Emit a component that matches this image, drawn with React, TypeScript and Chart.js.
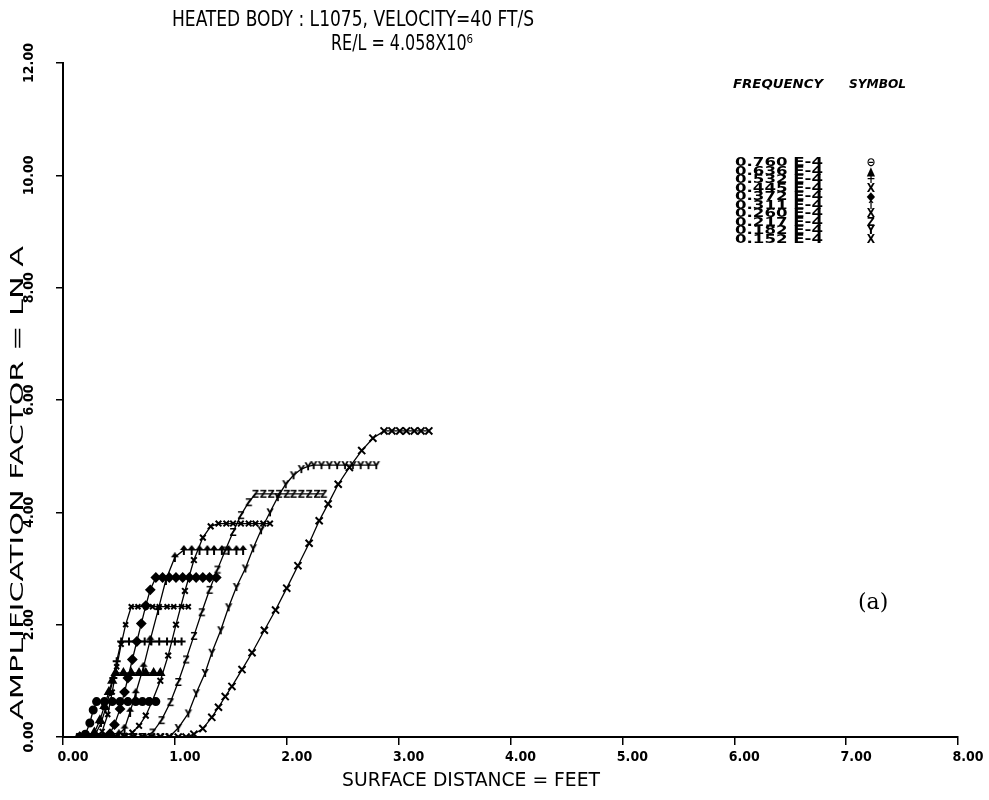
import React, { useEffect, useRef } from 'react';
import { Chart, registerables } from 'chart.js';

Chart.register(...registerables);

// ---------- data ----------
const X_TICKS = [0, 1, 2, 3, 4, 5, 6, 7, 8];
const Y_TICKS = [0, 2, 4, 6, 8, 10, 12];

const TITLE_LINE_1 = 'HEATED BODY : L1075, VELOCITY=40 FT/S';
const TITLE_LINE_2 = 'RE/L = 4.058X10\u2076';
const X_TITLE = 'SURFACE DISTANCE = FEET';
const Y_TITLE = 'AMPLIFICATION FACTOR = LN A';
const PANEL_LABEL = '(a)';
const LEGEND_HEAD_1 = 'FREQUENCY';
const LEGEND_HEAD_2 = 'SYMBOL';

const FREQUENCIES = ['0.760 E-4', '0.636 E-4', '0.532 E-4', '0.445 E-4', '0.372 E-4', '0.311 E-4', '0.260 E-4', '0.217 E-4', '0.182 E-4', '0.152 E-4'];
const SYMBOLS = ['\u2296', '\u25B2', '+', 'X', '\u25C6', '\u2191', 'X', 'Z', 'Y', 'X'];

const S1_X = [0.15, 0.20, 0.24, 0.27, 0.30, 0.37, 0.44, 0.51, 0.58, 0.65, 0.71, 0.77, 0.83];
const S1_Y = [0, 0.05, 0.25, 0.48, 0.63, 0.63, 0.63, 0.63, 0.63, 0.63, 0.63, 0.63, 0.63];

const S2_X = [0.15, 0.22, 0.28, 0.33, 0.37, 0.41, 0.44, 0.47, 0.54, 0.61, 0.68, 0.74, 0.81, 0.87];
const S2_Y = [0, 0, 0.08, 0.30, 0.55, 0.80, 1.00, 1.14, 1.14, 1.14, 1.14, 1.14, 1.14, 1.14];

const S3_X = [0.15, 0.22, 0.29, 0.34, 0.38, 0.42, 0.45, 0.48, 0.52, 0.59, 0.66, 0.73, 0.79, 0.86, 0.93, 1.00, 1.06];
const S3_Y = [0, 0, 0.05, 0.25, 0.50, 0.80, 1.05, 1.35, 1.70, 1.70, 1.70, 1.70, 1.70, 1.70, 1.70, 1.70, 1.70];

const S4_X = [0.15, 0.22, 0.29, 0.35, 0.40, 0.44, 0.48, 0.52, 0.56, 0.61, 0.67, 0.74, 0.80, 0.86, 0.93, 0.99, 1.06, 1.12];
const S4_Y = [0, 0, 0, 0.10, 0.40, 0.80, 1.25, 1.65, 2.00, 2.32, 2.32, 2.32, 2.32, 2.32, 2.32, 2.32, 2.32, 2.32];

const S5_X = [0.15, 0.22, 0.29, 0.36, 0.42, 0.46, 0.51, 0.55, 0.58, 0.62, 0.66, 0.70, 0.74, 0.78, 0.83, 0.89, 0.95, 1.01, 1.07, 1.13, 1.19, 1.25, 1.31, 1.37];
const S5_Y = [0, 0, 0, 0, 0.06, 0.22, 0.50, 0.80, 1.05, 1.38, 1.70, 2.02, 2.34, 2.62, 2.84, 2.84, 2.84, 2.84, 2.84, 2.84, 2.84, 2.84, 2.84, 2.84];

const S6_X = [0.15, 0.22, 0.29, 0.36, 0.43, 0.50, 0.55, 0.60, 0.65, 0.72, 0.78, 0.85, 0.92, 1.00, 1.08, 1.15, 1.22, 1.29, 1.35, 1.42, 1.48, 1.55, 1.61];
const S6_Y = [0, 0, 0, 0, 0, 0.05, 0.15, 0.45, 0.78, 1.25, 1.73, 2.26, 2.80, 3.20, 3.33, 3.33, 3.33, 3.33, 3.33, 3.33, 3.33, 3.33, 3.33];

const S7_X = [0.15, 0.23, 0.31, 0.39, 0.47, 0.55, 0.62, 0.68, 0.74, 0.80, 0.87, 0.94, 1.01, 1.09, 1.17, 1.25, 1.32, 1.39, 1.46, 1.52, 1.59, 1.66, 1.72, 1.79, 1.85];
const S7_Y = [0, 0, 0, 0, 0, 0.02, 0.08, 0.20, 0.38, 0.65, 1.00, 1.45, 2.00, 2.60, 3.15, 3.55, 3.75, 3.80, 3.80, 3.80, 3.80, 3.80, 3.80, 3.80, 3.80];

const S8_X = [0.15, 0.23, 0.31, 0.39, 0.47, 0.55, 0.63, 0.71, 0.80, 0.88, 0.96, 1.03, 1.10, 1.17, 1.24, 1.31, 1.38, 1.45, 1.52, 1.59, 1.66, 1.72, 1.79, 1.86, 1.93, 2.00, 2.06, 2.13, 2.20, 2.27, 2.33];
const S8_Y = [0, 0, 0, 0, 0, 0, 0, 0, 0.08, 0.30, 0.62, 0.98, 1.38, 1.80, 2.22, 2.62, 2.98, 3.32, 3.65, 3.95, 4.18, 4.33, 4.33, 4.33, 4.33, 4.33, 4.33, 4.33, 4.33, 4.33, 4.33];

const S9_X = [0.15, 0.23, 0.31, 0.39, 0.47, 0.55, 0.63, 0.71, 0.79, 0.87, 0.95, 1.03, 1.12, 1.19, 1.27, 1.33, 1.41, 1.48, 1.55, 1.63, 1.70, 1.77, 1.85, 1.92, 1.99, 2.06, 2.13, 2.19, 2.24, 2.31, 2.38, 2.45, 2.52, 2.59, 2.66, 2.73, 2.80];
const S9_Y = [0, 0, 0, 0, 0, 0, 0, 0, 0, 0, 0, 0.16, 0.42, 0.78, 1.14, 1.50, 1.90, 2.31, 2.67, 3.00, 3.36, 3.68, 4.00, 4.27, 4.50, 4.66, 4.77, 4.82, 4.84, 4.84, 4.84, 4.84, 4.84, 4.84, 4.84, 4.84, 4.84];

const S10_X = [0.15, 0.23, 0.31, 0.39, 0.47, 0.55, 0.63, 0.71, 0.79, 0.87, 0.95, 1.03, 1.10, 1.17, 1.25, 1.33, 1.39, 1.45, 1.51, 1.60, 1.69, 1.80, 1.90, 2.00, 2.10, 2.20, 2.29, 2.37, 2.46, 2.56, 2.67, 2.77, 2.87, 2.94, 3.01, 3.07, 3.14, 3.20, 3.27];
const S10_Y = [0, 0, 0, 0, 0, 0, 0, 0, 0, 0, 0, 0, 0, 0.05, 0.15, 0.35, 0.53, 0.72, 0.90, 1.20, 1.50, 1.90, 2.26, 2.65, 3.05, 3.45, 3.85, 4.15, 4.50, 4.80, 5.10, 5.32, 5.45, 5.45, 5.45, 5.45, 5.45, 5.45, 5.45];

const SERIES_X = [S1_X, S2_X, S3_X, S4_X, S5_X, S6_X, S7_X, S8_X, S9_X, S10_X];
const SERIES_Y = [S1_Y, S2_Y, S3_Y, S4_Y, S5_Y, S6_Y, S7_Y, S8_Y, S9_Y, S10_Y];

// ---------- styles / layout ----------
const W = 989;
const H = 800;
const AREA = { left: 63, right: 958, top: 63, bottom: 737 };
const SANS = '"DejaVu Sans Condensed", "DejaVu Sans", sans-serif';
const TICK_FONT_SIZE = 14;

function letterMarker(ch: string, size: number) {
  const c = document.createElement('canvas');
  c.width = size;
  c.height = size;
  const ctx = c.getContext('2d')!;
  ctx.fillStyle = '#000';
  ctx.font = `bold ${size + 1}px ${SANS}`;
  ctx.textAlign = 'center';
  ctx.textBaseline = 'middle';
  ctx.fillText(ch, size / 2, size / 2 + 1);
  return c;
}

function arrowMarker(size: number) {
  const c = document.createElement('canvas');
  c.width = size;
  c.height = size;
  const ctx = c.getContext('2d')!;
  ctx.strokeStyle = '#000';
  ctx.fillStyle = '#000';
  ctx.lineWidth = 2;
  ctx.beginPath();
  ctx.moveTo(size / 2, size);
  ctx.lineTo(size / 2, 2);
  ctx.stroke();
  ctx.beginPath();
  ctx.moveTo(size / 2, 0);
  ctx.lineTo(1, size * 0.5);
  ctx.lineTo(size - 1, size * 0.5);
  ctx.closePath();
  ctx.fill();
  return c;
}

function fitText(ctx: CanvasRenderingContext2D, text: string, x: number, y: number, width: number, font: string) {
  ctx.save();
  ctx.font = font;
  const w = ctx.measureText(text).width;
  ctx.translate(x, y);
  ctx.scale(width / w, 1);
  ctx.textAlign = 'left';
  ctx.textBaseline = 'alphabetic';
  ctx.fillText(text, 0, 0);
  ctx.restore();
}

const textPlugin = {
  id: 'figureText',
  afterDraw(chart: any) {
    const ctx: CanvasRenderingContext2D = chart.ctx;
    ctx.save();
    ctx.fillStyle = '#000';
    // title
    fitText(ctx, TITLE_LINE_1, 172, 26, 362, `21px ${SANS}`);
    fitText(ctx, TITLE_LINE_2, 331, 50, 142, `21px ${SANS}`);
    // x title
    fitText(ctx, X_TITLE, 342, 786, 258, `20px ${SANS}`);
    // y title (rotated)
    ctx.save();
    ctx.translate(23, 720);
    ctx.rotate(-Math.PI / 2);
    fitText(ctx, Y_TITLE, 0, 0, 474, `18px ${SANS}`);
    ctx.restore();
    // legend
    fitText(ctx, LEGEND_HEAD_1, 733, 88, 90, `italic bold 12px ${SANS}`);
    fitText(ctx, LEGEND_HEAD_2, 849, 88, 57, `italic bold 12px ${SANS}`);
    FREQUENCIES.forEach((f, i) => {
      const y = 166 + i * 8.55;
      fitText(ctx, f, 735, y, 88, `bold 13px ${SANS}`);
      ctx.font = `bold 12px ${SANS}`;
      ctx.textAlign = 'center';
      ctx.textBaseline = 'alphabetic';
      ctx.fillText(SYMBOLS[i], 871, y);
    });
    // panel label
    ctx.font = '22px "DejaVu Serif", serif';
    ctx.textAlign = 'left';
    ctx.textBaseline = 'middle';
    ctx.fillText(PANEL_LABEL, 858, 603);
    ctx.restore();
  },
};

export default function App() {
  const ref = useRef<HTMLCanvasElement | null>(null);

  useEffect(() => {
    const canvas = ref.current!;
    const mctx = canvas.getContext('2d')!;
    mctx.font = `bold ${TICK_FONT_SIZE}px ${SANS}`;
    const widest = mctx.measureText('12.00').width;
    const yTickLen = 7;
    const yLabelCenter = 29;
    const yPadding = AREA.left - yTickLen - yLabelCenter - widest / 2;

    const styles: any[] = [
      'circle',
      'triangle',
      'cross',
      'crossRot',
      'rectRot',
      arrowMarker(10),
      'crossRot',
      letterMarker('Z', 10),
      letterMarker('Y', 10),
      'crossRot',
    ];
    const radii = [3.5, 4, 4, 3.5, 4, 5, 4, 5, 5, 5];

    const datasets = SERIES_X.map((xs, i) => ({
      label: FREQUENCIES[i],
      data: xs.map((x, j) => ({ x, y: SERIES_Y[i][j] })),
      showLine: true,
      borderColor: '#000',
      backgroundColor: '#000',
      borderWidth: 1.3,
      pointStyle: styles[i],
      pointRadius: radii[i],
      pointBorderWidth: 2,
      pointBorderColor: '#000',
      pointBackgroundColor: '#000',
      tension: 0,
    }));

    const chart = new Chart(canvas, {
      type: 'scatter',
      data: { datasets },
      options: {
        animation: false,
        responsive: false,
        devicePixelRatio: 1,
        layout: { padding: { left: 0, right: W - AREA.right, top: AREA.top, bottom: 0 } },
        plugins: {
          legend: { display: false },
          tooltip: { enabled: false },
          title: { display: false },
        },
        scales: {
          x: {
            type: 'linear',
            min: 0,
            max: 8,
            afterFit: (s: any) => { s.height = H - AREA.bottom; },
            afterBuildTicks: (s: any) => { s.ticks = X_TICKS.map((v) => ({ value: v })); },
            ticks: {
              color: '#000',
              font: { family: SANS, size: TICK_FONT_SIZE, weight: 'bold' },
              callback: (v: any) => Number(v).toFixed(2),
              labelOffset: 10,
              padding: 4,
              maxRotation: 0,
              autoSkip: false,
            },
            grid: { display: true, drawOnChartArea: false, drawTicks: true, tickLength: 8, color: '#000', lineWidth: 1.5 },
            border: { display: true, color: '#000', width: 2 },
          },
          y: {
            type: 'linear',
            min: 0,
            max: 12,
            afterFit: (s: any) => { s.width = AREA.left; },
            afterBuildTicks: (s: any) => { s.ticks = Y_TICKS.map((v) => ({ value: v })); },
            ticks: {
              color: '#000',
              font: { family: SANS, size: TICK_FONT_SIZE, weight: 'bold' },
              callback: (v: any) => Number(v).toFixed(2),
              minRotation: 90,
              maxRotation: 90,
              crossAlign: 'center',
              padding: yPadding,
              autoSkip: false,
            },
            grid: { display: true, drawOnChartArea: false, drawTicks: true, tickLength: yTickLen, color: '#000', lineWidth: 1.5 },
            border: { display: true, color: '#000', width: 2 },
          },
        },
      } as any,
      plugins: [textPlugin],
    });
    return () => chart.destroy();
  }, []);

  return (
    <div style={{ position: 'fixed', left: 0, top: 0, width: W, height: H, background: '#fff' }}>
      <canvas ref={ref} width={W} height={H} style={{ display: 'block', width: W, height: H }} />
    </div>
  );
}
